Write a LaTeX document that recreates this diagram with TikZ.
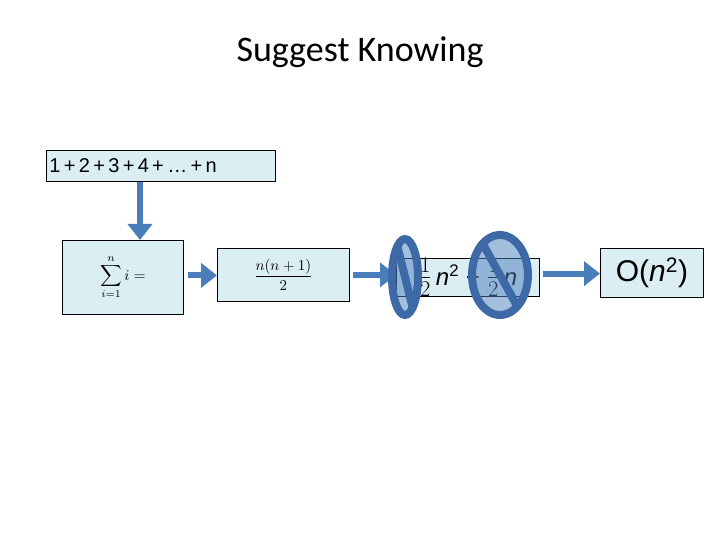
\documentclass[tikz,border=0pt]{standalone}
\usepackage{fontspec}
\usepackage{graphicx}
\setmainfont{Carlito}
\newfontfamily\arialf{Liberation Sans}
\usetikzlibrary{arrows.meta}
\definecolor{boxfill}{HTML}{DBEEF4}
\definecolor{arr}{HTML}{4A7EBB}
\definecolor{ringc}{HTML}{3D6AA6}
\tikzset{bx/.style={draw=black,fill=boxfill,line width=0.8pt,inner sep=0pt},
  ar/.style={draw=arr,line width=6pt,-{Triangle[length=16pt,width=24pt]}},
  ring/.style={draw=ringc,line width=8pt,fill=arr,fill opacity=0.5}}
\begin{document}
\begin{tikzpicture}[x=1pt,y=-1pt]
\useasboundingbox (0,0) rectangle (720,540);
\node (title) at (360,52) {\fontsize{36}{40}\selectfont Suggest Knowing};
\node[bx,minimum width=229,minimum height=31,anchor=north west,text width=223,align=left] (top) at (46,150) {\fontsize{20}{22}\selectfont\arialf 1 + 2 + 3 + 4 + … + n};
\node[bx,minimum width=121,minimum height=74,anchor=north west] (sum) at (62,240) {\scalebox{1.5}{$\displaystyle\sum_{i=1}^{n} i =$}};
\node[bx,minimum width=132,minimum height=53,anchor=north west] (frac) at (217,248) {\scalebox{1.5}{$\displaystyle\frac{n(n+1)}{2}$}};
\node[bx,minimum width=143,minimum height=37,anchor=north west] (third) at (396,258) {\fontsize{24}{26}\selectfont\arialf\scalebox{1.3}{$\frac12$}\,\textit{n}\textsuperscript{2} + \scalebox{1.3}{$\frac12$}\,\textit{n}};
\node[bx,minimum width=103,minimum height=49,anchor=north west] (big) at (600,248) {\fontsize{30}{34}\selectfont\arialf O(\textit{n}\textsuperscript{2})};
\draw[ar] (top.south -| 140,0) -- (sum.north -| 140,0);
\draw[ar] (sum.east) ++(4,-2) coordinate (a1) (a1) -- (frac.west |- a1);
\draw[ar] (frac.east) ++(3,0) coordinate (a2) (a2) -- (third.west |- a2);
\draw[ar] (third.east) ++(3,-4) coordinate (a3) (a3) -- (big.west |- a3);
\draw[ring] (405,277) ellipse [x radius=13, y radius=38];
\draw[ringc,line width=8pt] (397,245) -- (413,309);
\draw[ring] (500,275) ellipse [x radius=28, y radius=40];
\draw[ringc,line width=8pt] (484,246) -- (516,304);
\end{tikzpicture}
\end{document}
